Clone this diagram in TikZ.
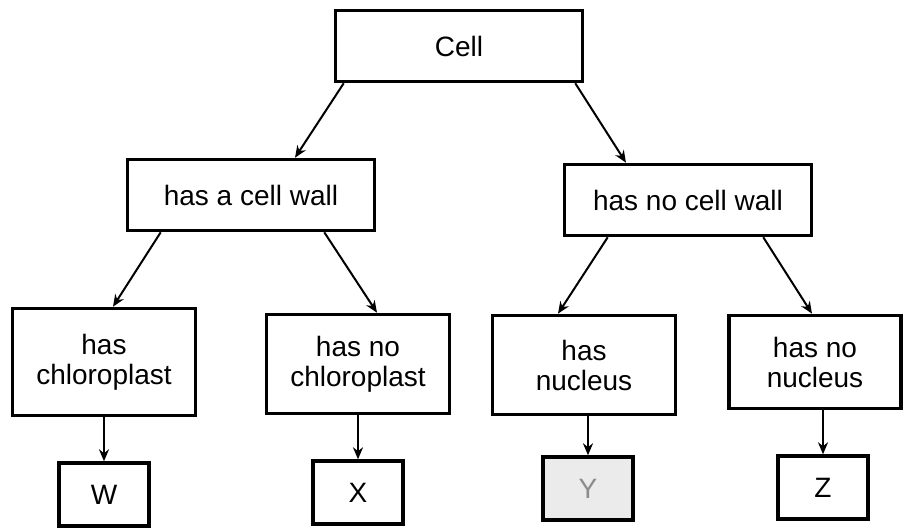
\documentclass[tikz,border=0pt]{standalone}
\usepackage{fontspec}
\setmainfont{Liberation Sans}
\usetikzlibrary{positioning,arrows.meta}

\begin{document}
\begin{tikzpicture}[
  x=1pt, y=-1pt,
  node distance=44pt,
  every node/.style={draw, line width=3.6pt, align=center, inner sep=0pt, font=\fontsize{28}{30}\selectfont},
  top/.style={minimum width=247pt, minimum height=71pt},
  mid/.style={minimum width=183pt, minimum height=99pt},
  leaf/.style={minimum width=90pt, minimum height=63pt},
  arrow/.style={-{Stealth[length=12pt,width=10pt]}, line width=2pt}
]
\useasboundingbox (0,0) rectangle (905,529);

\node[top] (cell) at (459,46) {Cell};
\node[top] (wall) at (251,195) {has a cell wall};
\node[top] (nowall) at (688,200) {has no cell wall};

\node[mid, minimum height=107pt] (chl) at (104,362) {has\\chloroplast};
\node[mid] (nochl) at (358,364) {has no\\chloroplast};
\node[mid] (nuc) at (584,365) {has\\nucleus};
\node[mid, minimum width=172pt, minimum height=93pt] (nonuc) at (815,362) {has no\\nucleus};

\node[leaf] (w) [below=of chl] {W};
\node[leaf] (x) [below=of nochl] {X};
\node[leaf, fill=black!8, text=black!45] (y) [below=39pt of nuc, xshift=4pt] {Y};
\node[leaf] (z) [below=of nonuc, xshift=8pt] {Z};

\draw[arrow] ([xshift=10pt]cell.south west) -- ([xshift=44pt]wall.north);
\draw[arrow] ([xshift=-9pt]cell.south east) -- ([xshift=-62pt]nowall.north);
\draw[arrow] ([xshift=35pt]wall.south west) -- ([xshift=9pt]chl.north);
\draw[arrow] ([xshift=-52pt]wall.south east) -- ([xshift=19pt]nochl.north);
\draw[arrow] ([xshift=45pt]nowall.south west) -- ([xshift=-26pt]nuc.north);
\draw[arrow] ([xshift=-50pt]nowall.south east) -- ([xshift=-3pt]nonuc.north);
\draw[arrow] (chl) -- (w);
\draw[arrow] (nochl) -- (x);
\draw[arrow] (y.north |- nuc.south) -- (y);
\draw[arrow] (z.north |- nonuc.south) -- (z);
\end{tikzpicture}
\end{document}
